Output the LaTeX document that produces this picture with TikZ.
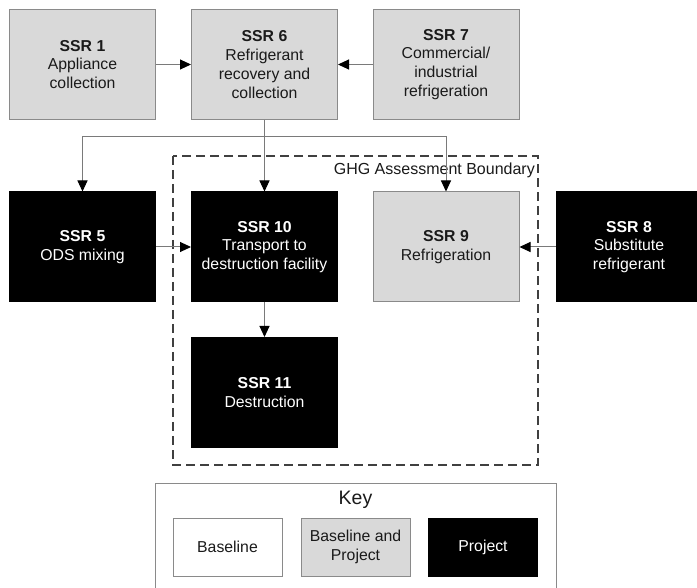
\documentclass[tikz,border=0pt]{standalone}
\usepackage{fontspec}
\setmainfont{Liberation Sans}
\usetikzlibrary{arrows.meta}
\definecolor{boxgray}{HTML}{D9D9D9}
\definecolor{edgegray}{HTML}{8A8A8A}
\definecolor{linegray}{HTML}{7A7A7A}
\definecolor{txt}{HTML}{1A1A1A}
\tikzset{
  ssrbox/.style={rectangle, draw=edgegray, line width=1pt, minimum width=146pt, minimum height=110pt, align=center, inner sep=2pt, font=\fontsize{15.8}{18.8}\selectfont, text=txt},
  graybox/.style={ssrbox, fill=boxgray},
  blackbox/.style={ssrbox, fill=black, draw=black, text=white},
  keybox/.style={rectangle, line width=1pt, minimum width=109pt, minimum height=58pt, align=center, inner sep=2pt, font=\fontsize{15.8}{18.8}\selectfont, text=txt},
  conn/.style={draw=linegray, line width=1pt, -{Triangle[length=11pt,width=10pt,fill=black,color=black]}},
  boundary/.style={draw=black!75, line width=1.4pt, dash pattern=on 9pt off 5pt}
}
\begin{document}
\begin{tikzpicture}[x=1pt,y=1pt]
\useasboundingbox (0,0) rectangle (697,-588);
\clip (0,0) rectangle (697,-588);
\fill[white] (0,0) rectangle (697,-588);
% boxes
\node[graybox] (s1) at (82.5,-64.5) {\textbf{SSR 1}\\Appliance\\collection};
\node[graybox] (s6) at (264.5,-64.5) {\textbf{SSR 6}\\Refrigerant\\recovery and\\collection};
\node[graybox] (s7) at (446,-64.5) {\textbf{SSR 7}\\Commercial/\\industrial\\refrigeration};
\node[blackbox] (s5) at (82.5,-247) {\textbf{SSR 5}\\ODS mixing};
\node[blackbox] (s10) at (264.5,-247) {\textbf{SSR 10}\\Transport to\\destruction facility};
\node[graybox] (s9) at (446,-247) {\textbf{SSR 9}\\Refrigeration};
\node[blackbox] (s8) at (629,-247) {\textbf{SSR 8}\\Substitute\\refrigerant};
\node[blackbox] (s11) at (264.5,-392.5) {\textbf{SSR 11}\\Destruction};
% boundary
\draw[boundary] (173,-156) rectangle (538,-465);
\node[anchor=east, inner sep=1pt, font=\fontsize{16}{19}\selectfont, text=txt] (ghg) at (536,-170) {GHG Assessment Boundary};
% connectors
\coordinate (j) at (264.5,-137);
\draw[conn] (s1.east) -- (s6.west);
\draw[conn] (s7.west) -- (s6.east);
\draw[conn] (s6.south) -- (s10.north);
\draw[conn] (j) -| (s5.north);
\draw[conn] (j) -| (s9.north);
\draw[conn] (s5.east) -- (s10.west);
\draw[conn] (s8.west) -- (s9.east);
\draw[conn] (s10.south) -- (s11.north);
% key
\draw[draw=edgegray, line width=1pt] (155,-483) rectangle (556,-610);
\node[font=\fontsize{19.5}{22}\selectfont, text=txt] (key) at (355.5,-500) {Key};
\node[keybox, draw=edgegray, fill=white] (kb) at (227.5,-547) {Baseline};
\node[keybox, draw=edgegray, fill=boxgray] (kbp) at (355.5,-547) {Baseline and\\Project};
\node[keybox, draw=black, fill=black, text=white] (kp) at (483,-547) {Project};
\end{tikzpicture}
\end{document}
